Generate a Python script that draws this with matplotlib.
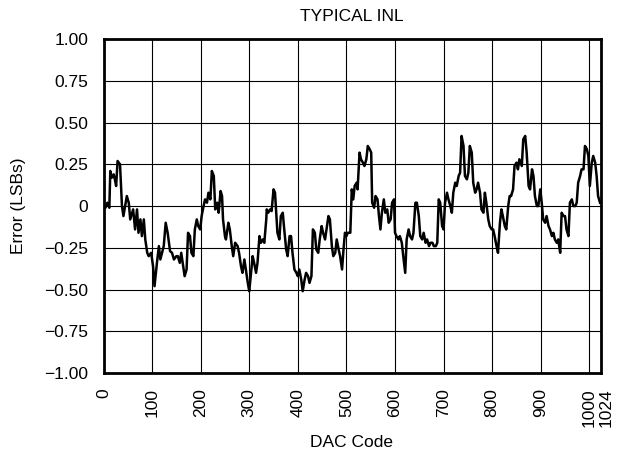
import matplotlib
matplotlib.use("Agg")
import matplotlib.pyplot as plt
from matplotlib.transforms import ScaledTranslation

plt.rcParams['font.family'] = ['Liberation Sans', 'DejaVu Sans']

# (DAC code, INL in LSBs), split by code range
seg_000_150 = [(0, 0.00), (4, -0.01), (8, 0.02), (12, -0.01), (14, 0.21), (17, 0.17), (21, 0.19),
               (24, 0.15), (26, 0.12), (29, 0.27), (34, 0.25), (38, 0.00), (41, -0.06), (48, 0.06),
               (52, 0.02), (55, -0.08), (61, -0.02), (65, -0.14), (69, -0.02), (72, -0.16),
               (76, -0.08), (79, -0.18), (83, -0.08), (86, -0.20), (90, -0.28), (93, -0.30),
               (98, -0.28), (102, -0.36), (105, -0.48), (110, -0.34), (114, -0.24), (117, -0.32),
               (124, -0.24), (128, -0.10), (132, -0.16), (137, -0.27), (141, -0.28), (145, -0.32),
               (150, -0.30)]
seg_150_335 = [(153, -0.30), (157, -0.34), (160, -0.28), (164, -0.36), (167, -0.42), (171, -0.38),
               (174, -0.16), (178, -0.18), (181, -0.28), (185, -0.30), (188, -0.14), (192, -0.08),
               (195, -0.12), (199, -0.14), (202, -0.06), (206, 0.00), (209, 0.04), (213, 0.02),
               (216, 0.08), (220, 0.04), (223, 0.21), (227, 0.18), (230, -0.02), (234, 0.02),
               (237, -0.04), (241, 0.09), (244, 0.06), (246, -0.08), (250, -0.18), (252, -0.20),
               (257, -0.10), (260, -0.14), (264, -0.24), (267, -0.30), (271, -0.22), (276, -0.24),
               (279, -0.28), (283, -0.36), (286, -0.40), (290, -0.32), (293, -0.38), (297, -0.46),
               (300, -0.51), (303, -0.42), (307, -0.30), (310, -0.34), (314, -0.40), (317, -0.34),
               (321, -0.18), (324, -0.22), (328, -0.20), (331, -0.22), (335, -0.08)]
seg_335_510 = [(336, -0.02), (339, -0.04), (343, -0.02), (346, -0.03), (350, 0.10), (353, 0.08),
               (355, -0.02), (358, -0.16), (362, -0.20), (365, -0.06), (369, -0.04), (372, -0.14),
               (376, -0.26), (379, -0.30), (383, -0.18), (386, -0.18), (389, -0.28), (393, -0.38),
               (397, -0.40), (400, -0.42), (403, -0.38), (407, -0.44), (410, -0.51), (414, -0.44),
               (417, -0.40), (421, -0.42), (424, -0.46), (428, -0.42), (431, -0.14), (435, -0.16),
               (438, -0.26), (442, -0.28), (445, -0.20), (449, -0.12), (452, -0.16), (456, -0.20),
               (459, -0.14), (463, -0.06), (466, -0.08), (470, -0.24), (473, -0.30), (477, -0.28),
               (480, -0.20), (484, -0.26), (487, -0.30), (491, -0.38), (494, -0.26), (497, -0.16),
               (500, -0.18), (503, -0.16), (508, -0.16)]
seg_510_690 = [(511, 0.10), (514, 0.04), (517, 0.12), (521, 0.14), (523, 0.10), (527, 0.32),
               (530, 0.28), (534, 0.26), (537, 0.24), (541, 0.28), (544, 0.36), (548, 0.34),
               (551, 0.32), (553, 0.02), (557, -0.01), (560, 0.06), (564, 0.04), (567, -0.06),
               (570, -0.14), (573, -0.04), (577, 0.04), (580, -0.04), (584, -0.02), (587, -0.10),
               (591, -0.08), (594, 0.02), (598, 0.04), (600, -0.16), (603, -0.18), (607, -0.20),
               (610, -0.18), (614, -0.22), (617, -0.30), (621, -0.40), (624, -0.20), (628, -0.14),
               (631, -0.18), (635, -0.20), (638, -0.16), (642, 0.02), (645, 0.02), (649, -0.06),
               (652, -0.18), (656, -0.20), (659, -0.16), (663, -0.22), (666, -0.20), (670, -0.24),
               (673, -0.22), (677, -0.22), (680, -0.24), (684, -0.24), (687, -0.22)]
seg_690_860 = [(690, 0.04), (693, 0.02), (697, -0.12), (700, -0.14), (703, 0.02), (707, 0.08),
               (710, 0.04), (714, 0.00), (717, -0.04), (720, 0.08), (724, 0.14), (727, 0.12),
               (731, 0.18), (734, 0.20), (737, 0.42), (741, 0.36), (744, 0.18), (748, 0.16),
               (751, 0.20), (754, 0.36), (758, 0.32), (761, 0.14), (765, 0.08), (768, 0.10),
               (771, 0.14), (775, 0.08), (778, -0.02), (782, -0.04), (785, 0.08), (788, 0.02),
               (792, -0.08), (795, -0.12), (799, -0.14), (802, -0.14), (805, -0.18), (809, -0.24),
               (812, -0.28), (816, -0.10), (819, -0.02), (822, -0.06), (826, -0.12), (829, -0.14),
               (833, 0.00), (836, 0.06), (839, 0.06), (843, 0.10), (846, 0.24), (850, 0.26),
               (853, 0.22), (856, 0.28)]
seg_860_1023 = [(861, 0.24), (864, 0.40), (868, 0.42), (871, 0.32), (875, 0.12), (878, 0.10),
                (882, 0.22), (885, 0.18), (888, 0.06), (892, 0.00), (895, 0.00), (899, 0.10),
                (902, 0.02), (905, -0.08), (909, -0.10), (912, -0.06), (916, -0.12), (919, -0.14),
                (923, -0.18), (926, -0.16), (929, -0.20), (933, -0.22), (936, -0.20), (940, -0.28),
                (943, -0.04), (947, -0.06), (950, -0.06), (953, -0.14), (957, -0.18), (960, 0.02),
                (964, 0.04), (967, 0.00), (971, 0.00), (974, 0.02), (977, 0.14), (981, 0.18),
                (984, 0.22), (988, 0.22), (991, 0.36), (995, 0.34), (998, 0.30), (1001, 0.12),
                (1005, 0.26), (1008, 0.30), (1012, 0.26), (1015, 0.18), (1018, 0.06), (1022, 0.02)]

xticks = [0, 100, 200, 300, 400, 500, 600, 700, 800, 900, 1000, 1024]
yticks = [1.00, 0.75, 0.50, 0.25, 0, -0.25, -0.50, -0.75, -1.00]
ytick_labels = ["1.00", "0.75", "0.50", "0.25", "0", "\u22120.25", "\u22120.50",
                "\u22120.75", "\u22121.00"]

trace = seg_000_150 + seg_150_335 + seg_335_510 + seg_510_690 + seg_690_860 + seg_860_1023
codes = [c for c, _ in trace]
inl = [v for _, v in trace]

FS = 12.5

fig = plt.figure(figsize=(6.25, 4.58), dpi=100)
ax = fig.add_axes([0.1656, 0.1856, 0.796, 0.729])

ax.plot(codes, inl, color='black', lw=1.8)

ax.set_xlim(0, 1024)
ax.set_ylim(-1.0, 1.0)
ax.set_xticks(xticks)
ax.set_xticklabels([str(t) for t in xticks], rotation=90, fontsize=FS)
ax.set_yticks(yticks)
ax.set_yticklabels(ytick_labels, fontsize=FS)
ax.tick_params(axis='y', length=0, pad=11)
ax.tick_params(axis='x', length=0, pad=11)
ax.grid(True, color='black', lw=0.8)
ax.set_axisbelow(True)
for s in ax.spines.values():
    s.set_linewidth(2.0)
    s.set_color('black')

# the last label (1024) sits just right of its tick in the reference
last = ax.get_xticklabels()[-1]
last.set_transform(last.get_transform() + ScaledTranslation(4 / 72, 0, fig.dpi_scale_trans))

fig.text(0.5627, 0.965, "TYPICAL INL", ha='center', va='center', fontsize=FS)
fig.text(0.5627, 0.034, "DAC Code", ha='center', va='center', fontsize=FS)
fig.text(0.0304, 0.551, "Error (LSBs)", ha='center', va='center', rotation=90, fontsize=FS)

fig.savefig("out.png", dpi=100)
